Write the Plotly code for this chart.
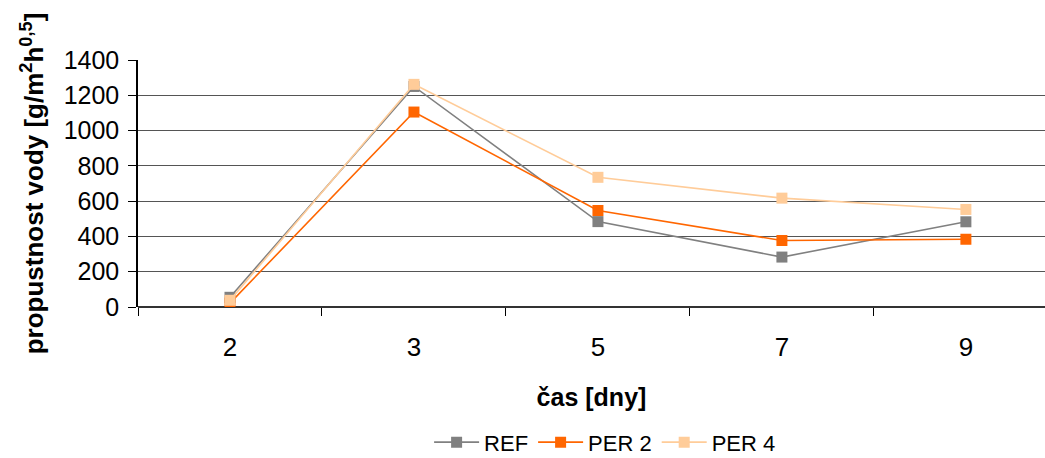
import plotly.graph_objects as go

days = ["2", "3", "5", "7", "9"]
ref = [55, 1250, 484, 283, 483]
per2 = [22, 1105, 547, 377, 384]
per4 = [38, 1262, 735, 617, 553]
y_ticks = [0, 200, 400, 600, 800, 1000, 1200, 1400]

series = [
    ("REF", ref, "#808080"),
    ("PER 2", per2, "#FF6600"),
    ("PER 4", per4, "#FFCC99"),
]

fig = go.Figure()
for name, vals, col in series:
    fig.add_trace(go.Scatter(
        x=days, y=vals, name=name, mode="lines+markers",
        line=dict(color=col, width=1.6),
        marker=dict(symbol="square", size=11, color=col),
    ))

font = "Liberation Sans, Arial, sans-serif"
fig.update_layout(
    width=1045, height=458,
    margin=dict(l=138, r=0, t=59.5, b=150.5, autoexpand=False),
    paper_bgcolor="white", plot_bgcolor="white",
    font=dict(family=font, color="black", size=22),
    showlegend=True,
    legend=dict(orientation="h", x=0.515, xanchor="center", y=-0.548, yanchor="middle",
                font=dict(size=22), itemwidth=45, tracegroupgap=0),
    xaxis=dict(
        type="category", range=[-0.5, 4.43], automargin=False,
        tickson="boundaries", ticks="outside", ticklen=8, tickcolor="black",
        showline=False, showgrid=False, zeroline=False,
        tickfont=dict(size=26), ticklabelstandoff=22,
        title=dict(text="<b>čas [dny]</b>", font=dict(size=25), standoff=27),
    ),
    yaxis=dict(
        range=[0, 1400], tickvals=y_ticks, automargin=False,
        ticks="outside", ticklen=8, tickcolor="black",
        showline=True, linecolor="black", linewidth=1.5,
        showgrid=True, gridcolor="#555555", gridwidth=1,
        zeroline=True, zerolinecolor="#333333", zerolinewidth=1.5,
        tickfont=dict(size=25), ticklabelstandoff=4,
        title=dict(text="<b>propustnost vody [g/m<sup>2</sup>h<sup>0,5</sup>]</b>",
                   font=dict(size=26), standoff=13),
    ),
)

fig.write_html("out.html")
